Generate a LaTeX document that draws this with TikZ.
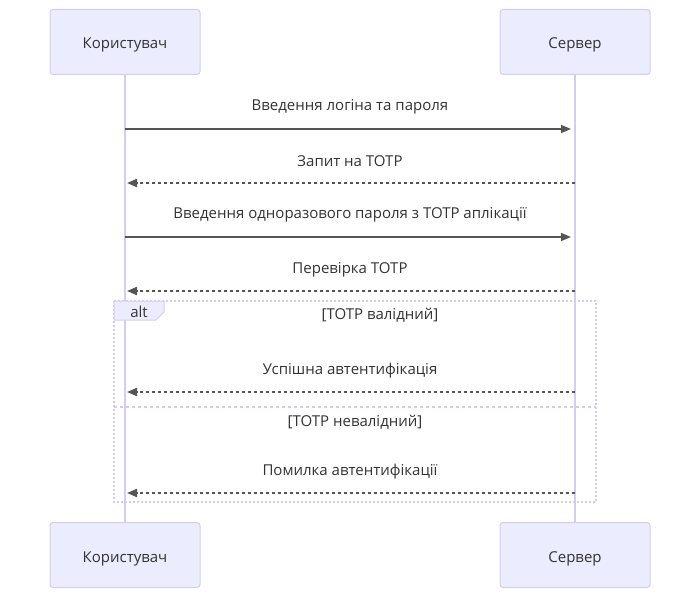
\documentclass[tikz,border=0pt]{standalone}
\usepackage{fontspec}
\setmainfont{Open Sans}
\usetikzlibrary{arrows.meta}
\definecolor{actorfill}{HTML}{ECECFF}
\definecolor{actorline}{HTML}{D6CCF2}
\definecolor{msgline}{HTML}{555555}
\definecolor{msgtext}{HTML}{333333}
\definecolor{altline}{HTML}{D4CCEE}
\tikzset{
  actor/.style = {draw=actorline, fill=actorfill, rounded corners=3pt, line width=1pt,
                  minimum width=150pt, minimum height=65pt, text height=17pt, text depth=3pt,
                  font=\fontsize{15}{17}\selectfont, text=msgtext},
  lifeline/.style = {draw=actorline, line width=1.5pt},
  msg/.style = {draw=msgline, line width=1.5pt, -{Triangle[length=10pt,width=8pt]}},
  reply/.style = {msg, dash pattern=on 3pt off 3pt, line width=2pt},
  msglabel/.style = {text=msgtext, font=\fontsize{15}{17}\selectfont},
  altbox/.style = {draw=altline, line width=2pt, dash pattern=on 2pt off 2pt},
}
\begin{document}
\begin{tikzpicture}[x=1pt, y=-1pt]
  \useasboundingbox (0,0) rectangle (700,599);
  % actors
  \node[actor] (user) at (125,42) {Користувач};
  \node[actor] (server) at (575,42) {Сервер};
  \node[actor] (userB) at (125,555) {Користувач};
  \node[actor] (serverB) at (575,555) {Сервер};
  \draw[lifeline] (user) -- (userB);
  \draw[lifeline] (server) -- (serverB);

  % alt frame
  \draw[altbox] (114,301) rectangle (596,502);
  \draw[altbox, dash pattern=on 3pt off 3pt] (114,407) -- (596,407);
  \filldraw[draw=altline, fill=actorfill, line width=1pt]
    (114,301) -- (164,301) -- (164,312) -- (156,320) -- (114,320) -- cycle;
  \node[msglabel] (alt) at (139,312) {alt};
  \node[msglabel] (okguard) at (380,315) {[TOTP валідний]};
  \node[msglabel] (badguard) at (355,422) {[TOTP невалідний]};

  % messages
  \coordinate (u1) at (125,129); \coordinate (s1) at (575,129);
  \coordinate (u2) at (125,183); \coordinate (s2) at (575,183);
  \coordinate (u3) at (125,237); \coordinate (s3) at (575,237);
  \coordinate (u4) at (125,291); \coordinate (s4) at (575,291);
  \coordinate (u5) at (125,392); \coordinate (s5) at (575,392);
  \coordinate (u6) at (125,493); \coordinate (s6) at (575,493);
  \draw[msg] (u1) -- ([xshift=-4pt]s1);
  \node[msglabel] (m1) at (350,107) {Введення логіна та пароля};
  \draw[reply] (s2) -- ([xshift=2pt]u2);
  \node[msglabel] (m2) at (350,161) {Запит на TOTP};
  \draw[msg] (u3) -- ([xshift=-4pt]s3);
  \node[msglabel] (m3) at (350,215) {Введення одноразового пароля з TOTP аплікації};
  \draw[reply] (s4) -- ([xshift=2pt]u4);
  \node[msglabel] (m4) at (350,270) {Перевірка TOTP};
  \draw[reply] (s5) -- ([xshift=2pt]u5);
  \node[msglabel] (m5) at (350,371) {Успішна автентифікація};
  \draw[reply] (s6) -- ([xshift=2pt]u6);
  \node[msglabel] (m6) at (350,472) {Помилка автентифікації};
\end{tikzpicture}
\end{document}
